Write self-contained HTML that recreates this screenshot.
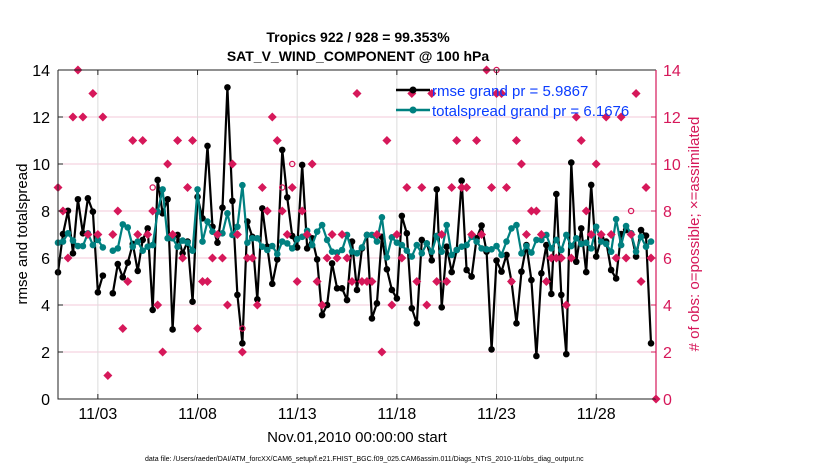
<!DOCTYPE html>
<html><head><meta charset="utf-8">
<style>
body{margin:0;background:#fff;}
svg text{font-family:"Liberation Sans",sans-serif;}
</style></head>
<body>
<svg id="chart" width="830" height="470" viewBox="0 0 830 470" xmlns="http://www.w3.org/2000/svg">
<rect width="830" height="470" fill="#fff"/>
<g id="grid"></g>
<g id="marks"></g>
<g id="axes"></g>
<text x="358" y="42" text-anchor="middle" font-size="14" font-weight="bold">Tropics 922 / 928 = 99.353%</text>
<text x="358" y="61" text-anchor="middle" font-size="14" font-weight="bold">SAT_V_WIND_COMPONENT @ 100 hPa</text>
<text transform="translate(27,234) rotate(-90)" text-anchor="middle" font-size="15">rmse and totalspread</text>
<text transform="translate(699,234) rotate(-90)" text-anchor="middle" font-size="15" fill="#d6185a"># of obs: o=possible; ×=assimilated</text>
<text x="357" y="442" text-anchor="middle" font-size="15">Nov.01,2010 00:00:00 start</text>
<text x="145" y="461" font-size="7">data file: /Users/raeder/DAI/ATM_forcXX/CAM6_setup/f.e21.FHIST_BGC.f09_025.CAM6assim.011/Diags_NTrS_2010-11/obs_diag_output.nc</text>
<g>
<line x1="396" y1="90" x2="430" y2="90" stroke="#000" stroke-width="2.5"/>
<circle cx="413" cy="90" r="3.5" fill="#000"/>
<text x="432" y="96" font-size="15" fill="#0a3cff">rmse grand pr = 5.9867</text>
<line x1="396" y1="110" x2="430" y2="110" stroke="#008080" stroke-width="2.5"/>
<circle cx="413" cy="110" r="3.5" fill="#008080"/>
<text x="432" y="116" font-size="15" fill="#0a3cff">totalspread grand pr = 6.1676</text>
</g>
</svg>
<script>
const rmse=[5.39,7.02,8.01,6.2,8.5,7.05,8.54,7.97,4.54,5.25,null,4.5,5.74,5.18,5.8,6.6,5.45,6.77,7.26,3.79,
9.32,7.9,8.5,2.96,6.98,6.2,6.7,4.14,8.6,7.69,10.77,7.33,6.65,8.14,13.26,8.43,4.43,2.37,7.55,6.9,
4.24,8.11,6.48,4.9,5.94,10.6,8.58,6.94,6.45,9.96,6.41,6.84,5.94,3.57,4.0,5.77,4.71,4.71,4.21,6.7,
4.64,6.41,6.98,3.43,4.07,6.9,5.52,4.64,4.28,7.79,7.05,3.86,3.22,6.77,6.62,5.9,8.92,3.9,6.48,5.4,
6.34,9.29,5.49,5.21,6.84,7.38,6.27,2.11,5.89,5.42,6.13,5.0,3.22,5.42,6.55,5.06,1.83,5.35,6.55,4.47,
8.72,4.43,1.91,10.06,5.84,7.26,5.4,9.11,6.06,6.84,6.7,5.49,5.13,7.02,7.19,7.05,6.06,7.19,6.95,2.37];
const spread=[6.65,6.7,7.05,6.74,6.51,6.51,7.05,6.55,6.77,6.45,null,6.31,6.41,7.43,7.3,6.48,6.7,6.31,6.48,6.55,
7.97,8.92,6.84,6.84,6.48,6.74,6.65,6.31,8.92,6.7,7.55,7.12,6.98,7.05,7.9,6.98,7.33,9.1,6.65,6.84,
6.84,6.48,6.34,6.51,6.17,6.7,6.62,6.41,6.8,6.9,7.16,6.55,7.12,7.4,6.77,6.27,6.23,6.34,6.98,6.27,
6.2,6.45,6.98,6.98,6.7,7.73,6.03,6.88,6.65,6.55,6.31,6.06,6.55,6.2,6.62,6.27,6.94,6.27,7.4,6.13,
6.34,6.48,6.55,6.9,6.7,6.41,6.37,6.37,6.51,6.13,6.7,7.26,7.4,6.2,6.51,6.23,6.77,6.77,6.98,6.41,
6.77,6.34,6.98,6.51,6.84,6.6,6.65,6.41,7.33,6.7,6.6,6.27,7.65,6.55,7.36,7.05,6.27,6.9,6.48,6.7];
const assimilated=[9,8,6,12,14,12,7,13,7,12,1,7,8,3,5,11,7,11,7,8,
4,2,10,7,11,6,9,11,3,5,5,6,7,6,4,10,7,2,6,6,
4,9,8,12,11,8,7,9,5,8,7,10,5,4,6,7,6,7,6,5,
13,5,5,5,7,2,11,4,7,6,9,13,5,9,4,13,5,7,5,9,
11,9,9,7,11,7,14,9,13,13,9,5,11,10,7,8,8,7,5,6,
6,6,4,6,12,11,8,7,10,7,12,7,6,12,6,7,13,5,9,6,0];
const possible=[9,8,6,12,14,12,7,13,7,12,1,7,8,3,5,11,7,11,7,9,
4,2,10,7,11,6,9,11,3,5,5,6,7,6,4,10,7,3,6,6,
4,9,8,12,11,9,7,10,5,8,7,10,5,4,6,7,6,7,6,5,
13,5,5,5,7,2,11,4,7,6,9,13,5,9,4,13,5,7,5,9,
11,9,9,7,11,7,14,9,14,13,9,5,11,10,7,8,8,7,5,6,
6,6,4,6,12,11,8,7,10,7,12,7,6,12,6,8,13,5,9,6,0];
const yTicks=[0,2,4,6,8,10,12,14];
const xTickDays=[3,8,13,18,23,28];
const xTickLabels=["11/03","11/08","11/13","11/18","11/23","11/28"];

const L=58,R=656,T=70,B=399,D0=1,D1=31,YMAX=14;
const NS="http://www.w3.org/2000/svg";
function xs(d){return L+(d-D0)/(D1-D0)*(R-L);}
function ys(v){return B-v/YMAX*(B-T);}
function dayOf(i){return D0+i*0.25;}
function mk(tag,attrs,parent){const e=document.createElementNS(NS,tag);for(const k in attrs)e.setAttribute(k,attrs[k]);parent.appendChild(e);return e;}
const grid=document.getElementById('grid'),marks=document.getElementById('marks'),axes=document.getElementById('axes');

yTicks.forEach(v=>{
  const g=mk('line',{x1:L,x2:R,y1:ys(v),y2:ys(v),stroke:'#f3c9d8','stroke-width':1},grid);
  
  
  const t=mk('text',{x:L-8,y:ys(v)+6,'text-anchor':'end','font-size':16},axes);
  t.textContent=v;
  
  
  const t2=mk('text',{x:R+7,y:ys(v)+6,'font-size':16,fill:'#d6185a'},axes);
  t2.textContent=v;
  
  
  mk('line',{x1:R,x2:R-5,y1:ys(v),y2:ys(v),stroke:'#d6185a'},axes);
  mk('line',{x1:L,x2:L+5,y1:ys(v),y2:ys(v),stroke:'#222'},axes);
});
xTickDays.forEach((d,k)=>{
  const g=mk('line',{x1:xs(d),x2:xs(d),y1:T,y2:B,stroke:'#dcdcdc','stroke-width':1},grid);
  
  
  mk('line',{x1:xs(d),x2:xs(d),y1:B,y2:B-5,stroke:'#222'},axes);
  mk('line',{x1:xs(d),x2:xs(d),y1:T,y2:T+5,stroke:'#222'},axes);
  const t=mk('text',{x:xs(d),y:B+20,'text-anchor':'middle','font-size':16},axes);
  t.textContent=xTickLabels[k];
  
  
});
const ax1=mk('path',{d:`M${L},${T}H${R}M${L},${T}V${B}H${R}`,fill:'none',stroke:'#222','stroke-width':1},axes);


const ax2=mk('line',{x1:R,x2:R,y1:T,y2:B,stroke:'#d6185a','stroke-width':1.2},axes);



function series(arr,color,name){
  let d='',pen=false;
  arr.forEach((v,i)=>{if(v==null){pen=false;return;}d+=(pen?'L':'M')+xs(dayOf(i)).toFixed(1)+','+ys(v).toFixed(1);pen=true;});
  const p=mk('path',{d:d,fill:'none',stroke:color,'stroke-width':2.2,'stroke-linejoin':'round'},marks);
  
  
  arr.forEach((v,i)=>{if(v==null)return;
    const c=mk('circle',{cx:xs(dayOf(i)),cy:ys(v),r:3.3,fill:color},marks);
    
    
  });
}
series(rmse,'#000','rmse');
series(spread,'#008080','totalspread');

possible.forEach((v,i)=>{
  if(v===assimilated[i])return;
  const c=mk('circle',{cx:xs(dayOf(i)),cy:ys(v),r:2.6,fill:'none',stroke:'#d6185a','stroke-width':1.3},marks);
  
  
});
assimilated.forEach((v,i)=>{
  const x=xs(dayOf(i)),y=ys(v);
  const p=mk('path',{d:`M${x},${y-4.5}L${x+4.5},${y}L${x},${y+4.5}L${x-4.5},${y}Z`,fill:'#d6185a'},marks);
  
  
});
</script>
</body></html>
